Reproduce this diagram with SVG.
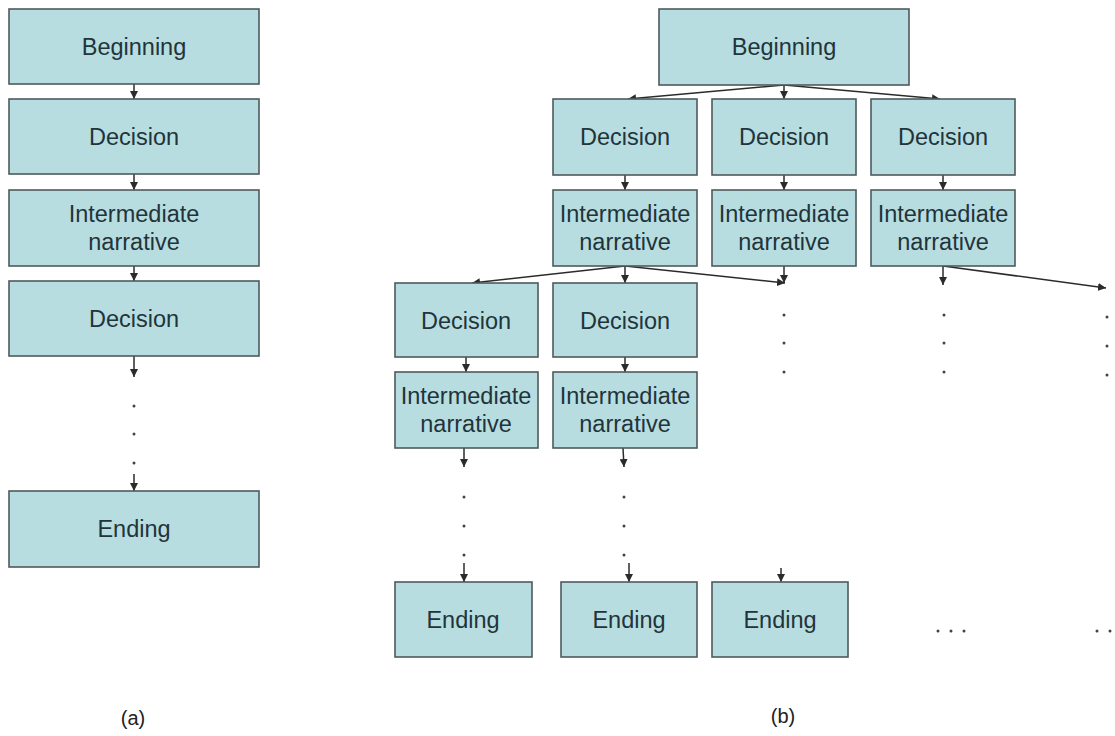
<svg xmlns="http://www.w3.org/2000/svg" width="1115" height="736" viewBox="0 0 1115 736">
<style>
.box{fill:#b7dde1;stroke:#4f5a5c;stroke-width:1.6}
.t{font-family:"Liberation Sans",Arial,sans-serif;font-size:23.5px;fill:#22343a;text-anchor:middle}
.cap{font-family:"Liberation Sans",Arial,sans-serif;font-size:20px;fill:#222;text-anchor:middle}
.c{stroke:#2b2b2b;stroke-width:1.5;fill:none}
.d{fill:#444}
</style>
<defs>
<marker id="ah" markerUnits="userSpaceOnUse" markerWidth="9" markerHeight="8" refX="8" refY="4" orient="auto">
<path d="M0,0 L8,4 L0,8 z" fill="#2b2b2b"/>
</marker>
</defs>
<rect width="1115" height="736" fill="#fff"/>

<g id="connectors">
<line class="c" x1="134" y1="84" x2="134" y2="99" marker-end="url(#ah)"/>
<line class="c" x1="134" y1="174" x2="134" y2="190" marker-end="url(#ah)"/>
<line class="c" x1="134" y1="266" x2="134" y2="281" marker-end="url(#ah)"/>
<line class="c" x1="134" y1="356" x2="134" y2="377" marker-end="url(#ah)"/>
<line class="c" x1="134" y1="474" x2="134" y2="491" marker-end="url(#ah)"/>

<line class="c" x1="784" y1="85" x2="628" y2="99" marker-end="url(#ah)"/>
<line class="c" x1="784" y1="85" x2="784" y2="99" marker-end="url(#ah)"/>
<line class="c" x1="784" y1="85" x2="940" y2="99" marker-end="url(#ah)"/>
<line class="c" x1="625" y1="175" x2="625" y2="190" marker-end="url(#ah)"/>
<line class="c" x1="784" y1="175" x2="784" y2="190" marker-end="url(#ah)"/>
<line class="c" x1="943" y1="175" x2="943" y2="190" marker-end="url(#ah)"/>

<line class="c" x1="625" y1="266" x2="472" y2="283" marker-end="url(#ah)"/>
<line class="c" x1="625" y1="266" x2="625" y2="283" marker-end="url(#ah)"/>
<line class="c" x1="625" y1="266" x2="785" y2="283" marker-end="url(#ah)"/>
<line class="c" x1="784" y1="266" x2="784" y2="283" marker-end="url(#ah)"/>
<line class="c" x1="943" y1="266" x2="943" y2="285" marker-end="url(#ah)"/>
<line class="c" x1="943" y1="266" x2="1106" y2="288" marker-end="url(#ah)"/>

<line class="c" x1="466" y1="357" x2="466" y2="372" marker-end="url(#ah)"/>
<line class="c" x1="625" y1="357" x2="625" y2="372" marker-end="url(#ah)"/>
<line class="c" x1="464" y1="448" x2="464" y2="467" marker-end="url(#ah)"/>
<line class="c" x1="623" y1="448" x2="624" y2="467" marker-end="url(#ah)"/>
<line class="c" x1="464" y1="563" x2="464" y2="582" marker-end="url(#ah)"/>
<line class="c" x1="629" y1="563" x2="629" y2="582" marker-end="url(#ah)"/>
<line class="c" x1="781" y1="568" x2="781" y2="582" marker-end="url(#ah)"/>
</g>

<g id="dots">
<circle class="d" cx="134" cy="406" r="1.5"/><circle class="d" cx="134" cy="434" r="1.5"/><circle class="d" cx="134" cy="463" r="1.5"/>
<circle class="d" cx="784" cy="315" r="1.5"/><circle class="d" cx="784" cy="343" r="1.5"/><circle class="d" cx="784" cy="372" r="1.5"/>
<circle class="d" cx="944" cy="315" r="1.5"/><circle class="d" cx="944" cy="343" r="1.5"/><circle class="d" cx="944" cy="372" r="1.5"/>
<circle class="d" cx="1107" cy="317" r="1.5"/><circle class="d" cx="1107" cy="346" r="1.5"/><circle class="d" cx="1107" cy="375" r="1.5"/>
<circle class="d" cx="464" cy="497" r="1.5"/><circle class="d" cx="464" cy="526" r="1.5"/><circle class="d" cx="464" cy="555" r="1.5"/>
<circle class="d" cx="624" cy="497" r="1.5"/><circle class="d" cx="624" cy="526" r="1.5"/><circle class="d" cx="624" cy="555" r="1.5"/>
<circle class="d" cx="938" cy="631" r="1.5"/><circle class="d" cx="951" cy="631" r="1.5"/><circle class="d" cx="964" cy="631" r="1.5"/>
<circle class="d" cx="1097" cy="631" r="1.5"/><circle class="d" cx="1110" cy="631" r="1.5"/>
</g>

<g id="a-beginning"><rect class="box" x="9" y="9" width="250" height="75"/><text class="t" x="134" y="55">Beginning</text></g>
<g id="a-decision1"><rect class="box" x="9" y="99" width="250" height="75"/><text class="t" x="134" y="145">Decision</text></g>
<g id="a-intermediate"><rect class="box" x="9" y="190" width="250" height="76"/><text class="t" x="134" y="222">Intermediate</text><text class="t" x="134" y="250">narrative</text></g>
<g id="a-decision2"><rect class="box" x="9" y="281" width="250" height="75"/><text class="t" x="134" y="327">Decision</text></g>
<g id="a-ending"><rect class="box" x="9" y="491" width="250" height="76"/><text class="t" x="134" y="537">Ending</text></g>

<g id="b-beginning"><rect class="box" x="659" y="9" width="250" height="76"/><text class="t" x="784" y="55">Beginning</text></g>
<g id="b-decision1"><rect class="box" x="553" y="99" width="144" height="76"/><text class="t" x="625" y="145">Decision</text></g>
<g id="b-decision2"><rect class="box" x="712" y="99" width="144" height="76"/><text class="t" x="784" y="145">Decision</text></g>
<g id="b-decision3"><rect class="box" x="871" y="99" width="144" height="76"/><text class="t" x="943" y="145">Decision</text></g>
<g id="b-inter1"><rect class="box" x="553" y="190" width="144" height="76"/><text class="t" x="625" y="222">Intermediate</text><text class="t" x="625" y="250">narrative</text></g>
<g id="b-inter2"><rect class="box" x="712" y="190" width="144" height="76"/><text class="t" x="784" y="222">Intermediate</text><text class="t" x="784" y="250">narrative</text></g>
<g id="b-inter3"><rect class="box" x="871" y="190" width="144" height="76"/><text class="t" x="943" y="222">Intermediate</text><text class="t" x="943" y="250">narrative</text></g>
<g id="b-decision4"><rect class="box" x="395" y="283" width="143" height="74"/><text class="t" x="466" y="329">Decision</text></g>
<g id="b-decision5"><rect class="box" x="553" y="283" width="144" height="74"/><text class="t" x="625" y="329">Decision</text></g>
<g id="b-inter4"><rect class="box" x="395" y="372" width="143" height="76"/><text class="t" x="466" y="404">Intermediate</text><text class="t" x="466" y="432">narrative</text></g>
<g id="b-inter5"><rect class="box" x="553" y="372" width="144" height="76"/><text class="t" x="625" y="404">Intermediate</text><text class="t" x="625" y="432">narrative</text></g>
<g id="b-ending1"><rect class="box" x="395" y="582" width="137" height="75"/><text class="t" x="463" y="628">Ending</text></g>
<g id="b-ending2"><rect class="box" x="561" y="582" width="136" height="75"/><text class="t" x="629" y="628">Ending</text></g>
<g id="b-ending3"><rect class="box" x="712" y="582" width="136" height="75"/><text class="t" x="780" y="628">Ending</text></g>

<text class="cap" x="133" y="725">(a)</text>
<text class="cap" x="783" y="723">(b)</text>
</svg>
